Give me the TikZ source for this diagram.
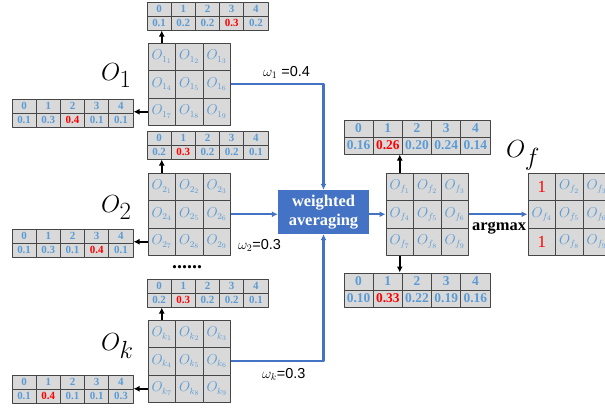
\documentclass[tikz,border=0pt]{standalone}
\usepackage{fontspec}
\setmainfont{Liberation Serif}
\setsansfont{Liberation Sans}
\usetikzlibrary{arrows.meta}
\definecolor{cellgray}{RGB}{217,217,217}
\definecolor{linegray}{RGB}{70,70,70}
\definecolor{txtblue}{RGB}{91,155,213}
\definecolor{boxblue}{RGB}{68,114,196}

\begin{document}
\begin{tikzpicture}[x=1bp,y=-1bp,>={Latex[length=6bp,width=6bp]},line join=bevel,
  cell/.style={draw=linegray,fill=cellgray,line width=1bp,minimum width=27.5bp,minimum height=27.5bp,inner sep=0pt,text=txtblue,font=\fontsize{13.5}{13.5}\selectfont},
  tcell/.style={draw=linegray,fill=cellgray,line width=1bp,minimum width=24.2bp,minimum height=14bp,inner sep=0pt,text=txtblue,font=\bfseries\fontsize{11}{11}\selectfont},
  wcell/.style={tcell,minimum width=29.2bp,minimum height=17bp,font=\bfseries\fontsize{13.5}{13.5}\selectfont},
  big/.style={anchor=base west,inner sep=0pt,font=\fontsize{33}{33}\selectfont},
  wlbl/.style={anchor=base west,inner sep=0pt,font=\sffamily\fontsize{14.5}{14.5}\selectfont},
  blk/.style={black,line width=2.2bp},
  bl/.style={draw=boxblue,line width=2.2bp},
]
\useasboundingbox (0,0) rectangle (605,410);
%%
\foreach \g/\gx/\gy/\s in {ga/148/43/1, gb/148/173/2, gk/148/320/k, gf/386/173/f}
  \foreach \i in {1,...,9} {
    \pgfmathtruncatemacro\r{(\i-1)/3}
    \pgfmathtruncatemacro\c{mod(\i-1,3)}
    \node[cell] (\g-\i) at ({\gx+13.75+27.5*\c},{\gy+13.75+27.5*\r}) {$O_{\s_{\i}}$};
  }
\foreach \i/\t in {1/{\fontsize{17}{17}\selectfont\textcolor{red}{1}},2/$O_{f_2}$,3/$O_{f_3}$,4/$O_{f_4}$,5/$O_{f_5}$,6/$O_{f_6}$,7/{\fontsize{17}{17}\selectfont\textcolor{red}{1}},8/$O_{f_8}$,9/$O_{f_9}$} {
    \pgfmathtruncatemacro\r{(\i-1)/3}
    \pgfmathtruncatemacro\c{mod(\i-1,3)}
    \node[cell] (gr-\i) at ({528+13.75+27.5*\c},{173+13.75+27.5*\r}) {\t};
  }
%
\foreach \t/\tx/\ty in {ta/159.1/9, tal/24.1/106, tb/159.1/138, tbl/24.1/236, tk/159.1/286, tkl/24.1/382}
  \foreach \j in {1,...,5}
    \node[tcell] (\t-h\j) at ({\tx+24.2*(\j-1)},\ty) {\number\numexpr\j-1\relax};
\foreach \v [count=\j] in {0.1,0.2,0.2,\textcolor{red}{0.3},0.2}
  \node[tcell] (ta-\j) at ({159.1+24.2*(\j-1)},23) {\v};
\foreach \v [count=\j] in {0.1,0.3,\textcolor{red}{0.4},0.1,0.1}
  \node[tcell] (tal-\j) at ({24.1+24.2*(\j-1)},120) {\v};
\foreach \v [count=\j] in {0.2,\textcolor{red}{0.3},0.2,0.2,0.1}
  \node[tcell] (tb-\j) at ({159.1+24.2*(\j-1)},152) {\v};
\foreach \v [count=\j] in {0.1,0.3,0.1,\textcolor{red}{0.4},0.1}
  \node[tcell] (tbl-\j) at ({24.1+24.2*(\j-1)},250) {\v};
\foreach \v [count=\j] in {0.2,\textcolor{red}{0.3},0.2,0.2,0.1}
  \node[tcell] (tk-\j) at ({159.1+24.2*(\j-1)},300) {\v};
\foreach \v [count=\j] in {0.1,\textcolor{red}{0.4},0.1,0.1,0.3}
  \node[tcell] (tkl-\j) at ({24.1+24.2*(\j-1)},396) {\v};
\foreach \j in {1,...,5} {
  \node[wcell] (tf-h\j) at ({358.6+29.2*(\j-1)},128.5) {\number\numexpr\j-1\relax};
  \node[wcell] (tfd-h\j) at ({358.6+29.2*(\j-1)},281.5) {\number\numexpr\j-1\relax};
}
\foreach \v [count=\j] in {0.16,\textcolor{red}{0.26},0.20,0.24,0.14}
  \node[wcell] (tf-\j) at ({358.6+29.2*(\j-1)},145.5) {\v};
\foreach \v [count=\j] in {0.10,\textcolor{red}{0.33},0.22,0.19,0.16}
  \node[wcell] (tfd-\j) at ({358.6+29.2*(\j-1)},298.5) {\v};
%
\node[big] (o1) at (101,80) {$O_1$};
\node[big] (o2) at (101,212) {$O_2$};
\node[big] (ok) at (101,350) {$O_k$};
\node[big] (of) at (506,157) {$O_f$};
\node[wlbl] (w1) at (263,76) {$\omega_1$ =0.4};
\node[wlbl] (w2) at (238,249) {$\omega_2$=0.3};
\node[wlbl] (wk) at (262,378) {$\omega_k$=0.3};
\node[anchor=base west,inner sep=0pt,font=\bfseries\fontsize{20}{20}\selectfont] (dots) at (172,268) {......};
\node[fill=boxblue,text=white,font=\bfseries\fontsize{16.5}{19}\selectfont,align=center,minimum width=91bp,minimum height=44bp,inner sep=0pt] (wa) at (323.5,212) {weighted\\averaging};
\node[anchor=base west,inner sep=0pt,font=\bfseries\fontsize{16.5}{16.5}\selectfont] (argmax) at (472,230) {argmax};
%
\draw [blk,->] (ga-1.north) -- (ga-1.north |- ta-1.south);
\draw [blk,->] (ga-7.west) -- (ga-7.west -| tal-5.east);
\draw [blk,->] (gb-1.north) -- (gb-1.north |- tb-1.south);
\draw [blk,->] (gb-7.west) -- (gb-7.west -| tbl-5.east);
\draw [blk,->] (gk-1.north) -- (gk-1.north |- tk-1.south);
\draw [blk,->] (gk-7.west) -- (gk-7.west -| tkl-5.east);
\draw [blk,->] (gf-1.north) -- (gf-1.north |- tf-1.south);
\draw [blk,->] (gf-7.south) -- (gf-7.south |- tfd-h1.north);
\draw [bl,->] (ga-6.east) -| (wa.north);
\draw [bl,->] (gb-6.east) -- (gb-6.east -| wa.west);
\draw [bl,->] (gk-6.east) -| (wa.south);
\draw [bl,->] (wa.east |- gf-4.west) -- (gf-4.west);
\draw [bl,->] (gf-6.east) -- (gr-4.west);
%
\end{tikzpicture}
\end{document}
